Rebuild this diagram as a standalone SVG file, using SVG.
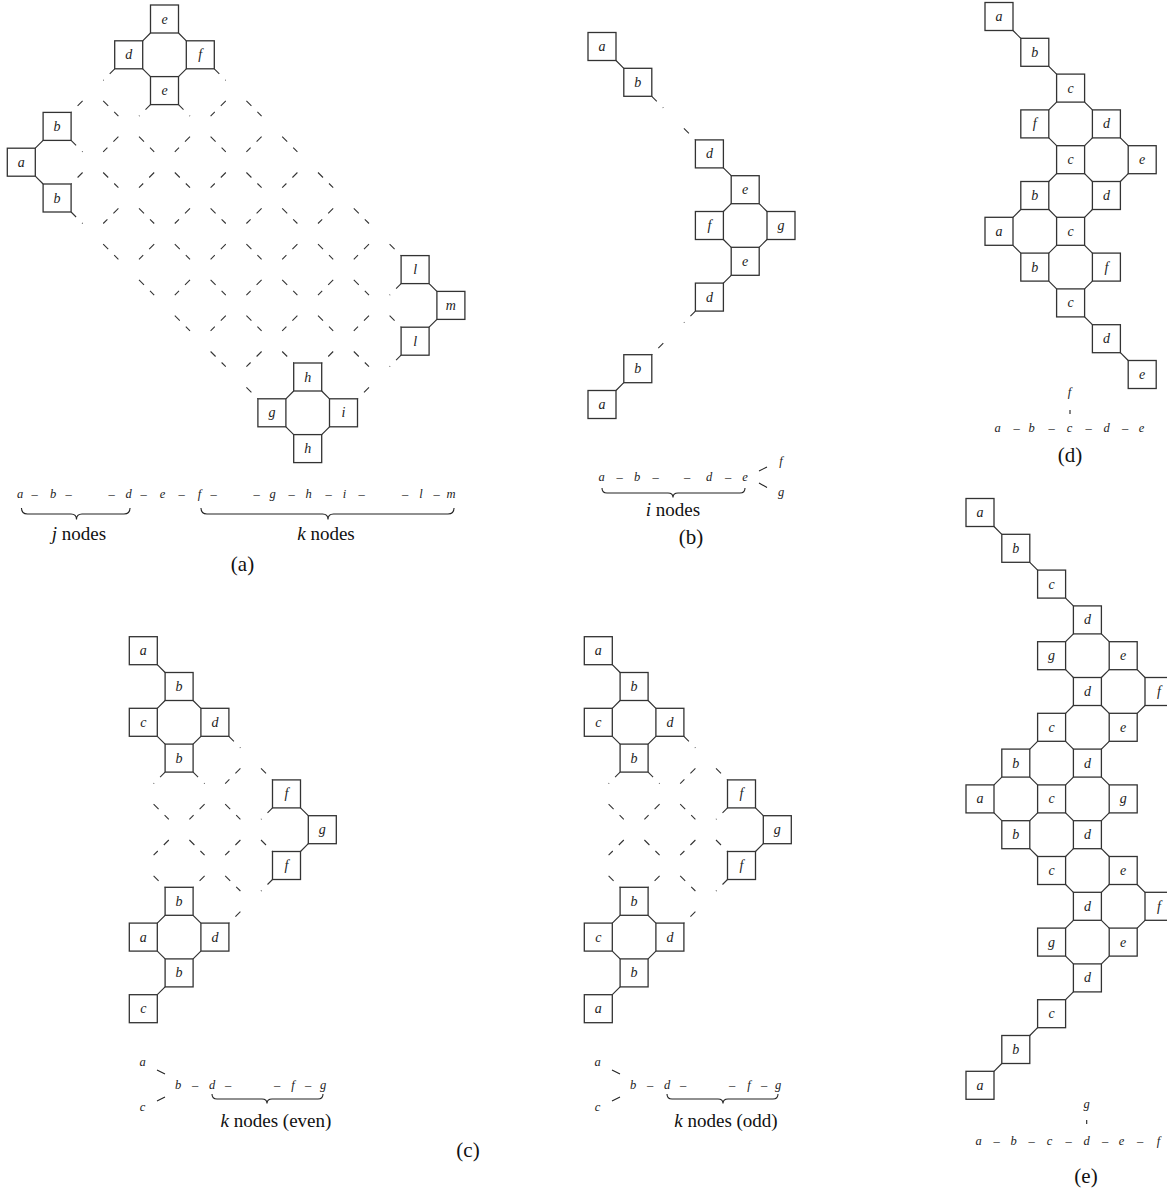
<svg xmlns="http://www.w3.org/2000/svg" width="1167" height="1194" viewBox="0 0 1167 1194">
<defs>
<style>
.sq{fill:#fff;stroke:#333;stroke-width:1.3}
.nl{font-family:"Liberation Serif",serif;font-style:italic;font-size:14px;fill:#222;text-anchor:middle}
.cn{fill:none;stroke:#333;stroke-width:1.2}
.dl{fill:none;stroke:#333;stroke-width:1.1;stroke-dasharray:7.07 8.49}
.ml{font-family:"Liberation Serif",serif;font-style:italic;font-size:12.5px;fill:#222;text-anchor:middle}
.br{fill:none;stroke:#222;stroke-width:1.1}
.tx{font-family:"Liberation Serif",serif;font-size:19px;fill:#111;text-anchor:middle}
.cap{font-family:"Liberation Serif",serif;font-size:21px;fill:#111;text-anchor:middle}
</style>
</defs>
<rect width="1167" height="1194" fill="#fff"/>

<g id="connectors">
 <g transform="translate(7.3,5)">
  <path class="cn" d="M28 143.2l7.8 -7.8M28 171.2l7.8 7.8M135.4 35.8l7.8 -7.8M135.4 63.8l7.8 7.8M171.2 28l7.8 7.8M171.2 71.6l7.8 -7.8M421.8 278.6l7.8 7.8M421.8 322.2l7.8 -7.8M278.6 393.8l7.8 -7.8M278.6 421.8l7.8 7.8M314.4 386l7.8 7.8M314.4 429.6l7.8 -7.8"/>
  <path class="dl" d="M63.8 207l11.5 11.5M95.9 239.1l15.2 15.2M131.7 274.9l15.2 15.2M167.5 310.7l15.2 15.2M203.3 346.5l15.2 15.2M239.1 382.3l11.5 11.5M63.8 135.4l11.5 11.5M95.9 167.5l15.2 15.2M131.7 203.3l15.2 15.2M167.5 239.1l15.2 15.2M203.3 274.9l15.2 15.2M239.1 310.7l15.2 15.2M274.9 346.5l11.5 11.5M95.9 95.9l15.2 15.2M131.7 131.7l15.2 15.2M167.5 167.5l15.2 15.2M203.3 203.3l15.2 15.2M239.1 239.1l15.2 15.2M274.9 274.9l15.2 15.2M310.7 310.7l15.2 15.2M346.5 346.5l15.2 15.2M171.2 99.6l11.5 11.5M203.3 131.7l15.2 15.2M239.1 167.5l15.2 15.2M274.9 203.3l15.2 15.2M310.7 239.1l15.2 15.2M346.5 274.9l15.2 15.2M382.3 310.7l11.5 11.5M207 63.8l11.5 11.5M239.1 95.9l15.2 15.2M274.9 131.7l15.2 15.2M310.7 167.5l15.2 15.2M346.5 203.3l15.2 15.2M382.3 239.1l11.5 11.5M75.3 95.9l-11.5 11.5M107.4 63.8l-11.5 11.5M75.3 167.5l-11.5 11.5M111.1 131.7l-15.2 15.2M143.2 99.6l-11.5 11.5M111.1 203.3l-15.2 15.2M146.9 167.5l-15.2 15.2M182.7 131.7l-15.2 15.2M218.5 95.9l-15.2 15.2M146.9 239.1l-15.2 15.2M182.7 203.3l-15.2 15.2M218.5 167.5l-15.2 15.2M254.3 131.7l-15.2 15.2M182.7 274.9l-15.2 15.2M218.5 239.1l-15.2 15.2M254.3 203.3l-15.2 15.2M290.1 167.5l-15.2 15.2M218.5 310.7l-15.2 15.2M254.3 274.9l-15.2 15.2M290.1 239.1l-15.2 15.2M325.9 203.3l-15.2 15.2M254.3 346.5l-15.2 15.2M290.1 310.7l-15.2 15.2M325.9 274.9l-15.2 15.2M361.7 239.1l-15.2 15.2M325.9 346.5l-11.5 11.5M361.7 310.7l-15.2 15.2M393.8 278.6l-11.5 11.5M361.7 382.3l-11.5 11.5M393.8 350.2l-11.5 11.5"/>
 </g>
 <g transform="translate(588,32.5)">
  <path class="cn" d="M28 28l7.8 7.8M135.4 135.4l7.8 7.8M135.4 179l7.8 -7.8M171.2 171.2l7.8 7.8M135.4 207l7.8 7.8M171.2 214.8l7.8 -7.8M135.4 250.6l7.8 -7.8M28 358l7.8 -7.8"/>
  <path class="dl" d="M63.8 63.8l11.5 11.5M95.9 95.9l11.5 11.5M107.4 278.6l-11.5 11.5M75.3 310.7l-11.5 11.5"/>
 </g>
 <g transform="translate(985,2.5)">
  <path class="cn" d="M28 28l7.8 7.8M63.8 63.8l7.8 7.8M63.8 107.4l7.8 -7.8M99.6 99.6l7.8 7.8M63.8 135.4l7.8 7.8M99.6 143.2l7.8 -7.8M135.4 135.4l7.8 7.8M99.6 171.2l7.8 7.8M135.4 179l7.8 -7.8M63.8 179l7.8 -7.8M28 214.8l7.8 -7.8M63.8 207l7.8 7.8M99.6 214.8l7.8 -7.8M28 242.8l7.8 7.8M63.8 250.6l7.8 -7.8M99.6 242.8l7.8 7.8M63.8 278.6l7.8 7.8M99.6 286.4l7.8 -7.8M99.6 314.4l7.8 7.8M135.4 350.2l7.8 7.8"/>
 </g>
 <g transform="translate(966,498.5)">
  <path class="cn" d="M28 28l7.8 7.8M63.8 63.8l7.8 7.8M99.6 99.6l7.8 7.8M135.4 135.4l7.8 7.8M99.6 171.2l7.8 7.8M99.6 143.2l7.8 -7.8M171.2 171.2l7.8 7.8M135.4 207l7.8 7.8M135.4 179l7.8 -7.8M99.6 242.8l7.8 7.8M99.6 214.8l7.8 -7.8M171.2 214.8l7.8 -7.8M63.8 278.6l7.8 7.8M63.8 250.6l7.8 -7.8M135.4 278.6l7.8 7.8M135.4 250.6l7.8 -7.8M28 314.4l7.8 7.8M28 286.4l7.8 -7.8M99.6 314.4l7.8 7.8M99.6 286.4l7.8 -7.8M63.8 350.2l7.8 7.8M63.8 322.2l7.8 -7.8M135.4 350.2l7.8 7.8M135.4 322.2l7.8 -7.8M99.6 386l7.8 7.8M99.6 358l7.8 -7.8M171.2 386l7.8 7.8M135.4 421.8l7.8 7.8M135.4 393.8l7.8 -7.8M99.6 457.6l7.8 7.8M99.6 429.6l7.8 -7.8M171.2 429.6l7.8 -7.8M135.4 465.4l7.8 -7.8M99.6 501.2l7.8 -7.8M63.8 537l7.8 -7.8M28 572.8l7.8 -7.8"/>
 </g>
 <g transform="translate(129.3,636.7)">
  <path class="cn" d="M28 28l7.8 7.8M28 71.6l7.8 -7.8M63.8 63.8l7.8 7.8M28 99.6l7.8 7.8M63.8 107.4l7.8 -7.8M171.2 171.2l7.8 7.8M171.2 214.8l7.8 -7.8M28 286.4l7.8 -7.8M63.8 278.6l7.8 7.8M28 314.4l7.8 7.8M63.8 322.2l7.8 -7.8M28 358l7.8 -7.8"/>
  <path class="dl" d="M99.6 99.6l11.5 11.5M131.7 131.7l11.5 11.5M63.8 135.4l11.5 11.5M95.9 167.5l15.2 15.2M131.7 203.3l11.5 11.5M24.3 167.5l15.2 15.2M60.1 203.3l15.2 15.2M95.9 239.1l15.2 15.2M24.3 239.1l11.5 11.5M35.8 135.4l-11.5 11.5M39.5 203.3l-15.2 15.2M75.3 167.5l-15.2 15.2M111.1 131.7l-15.2 15.2M75.3 239.1l-11.5 11.5M111.1 203.3l-15.2 15.2M143.2 171.2l-11.5 11.5M111.1 274.9l-11.5 11.5M143.2 242.8l-11.5 11.5"/>
 </g>
 <g transform="translate(584.3,636.7)">
  <path class="cn" d="M28 28l7.8 7.8M28 71.6l7.8 -7.8M63.8 63.8l7.8 7.8M28 99.6l7.8 7.8M63.8 107.4l7.8 -7.8M171.2 171.2l7.8 7.8M171.2 214.8l7.8 -7.8M28 286.4l7.8 -7.8M63.8 278.6l7.8 7.8M28 314.4l7.8 7.8M63.8 322.2l7.8 -7.8M28 358l7.8 -7.8"/>
  <path class="dl" d="M99.6 99.6l11.5 11.5M131.7 131.7l11.5 11.5M63.8 135.4l11.5 11.5M95.9 167.5l15.2 15.2M131.7 203.3l11.5 11.5M24.3 167.5l15.2 15.2M60.1 203.3l15.2 15.2M95.9 239.1l15.2 15.2M24.3 239.1l11.5 11.5M35.8 135.4l-11.5 11.5M39.5 203.3l-15.2 15.2M75.3 167.5l-15.2 15.2M111.1 131.7l-15.2 15.2M75.3 239.1l-11.5 11.5M111.1 203.3l-15.2 15.2M143.2 171.2l-11.5 11.5M111.1 274.9l-11.5 11.5M143.2 242.8l-11.5 11.5"/>
 </g>
 <path class="br" d="M759 471L767 467M759 483L767 487.5"/>
 <path class="br" d="M1070 410V414M1086.7 1120V1124"/>
 <path class="br" d="M157 1070L165 1074M157 1101L165 1097M612 1070L620 1074M612 1101L620 1097"/>
</g>

<g id="panel-a">
 <g transform="translate(7.3,5)">
  <g id="a-a" transform="translate(0,143.2)"><rect class="sq" width="28" height="28"/><text class="nl" x="14" y="18.5">a</text></g>
  <g id="a-b1" transform="translate(35.8,107.4)"><rect class="sq" width="28" height="28"/><text class="nl" x="14" y="18.5">b</text></g>
  <g id="a-b2" transform="translate(35.8,179)"><rect class="sq" width="28" height="28"/><text class="nl" x="14" y="18.5">b</text></g>
  <g id="a-d" transform="translate(107.4,35.8)"><rect class="sq" width="28" height="28"/><text class="nl" x="14" y="18.5">d</text></g>
  <g id="a-e1" transform="translate(143.2,0)"><rect class="sq" width="28" height="28"/><text class="nl" x="14" y="18.5">e</text></g>
  <g id="a-f" transform="translate(179,35.8)"><rect class="sq" width="28" height="28"/><text class="nl" x="14" y="18.5">f</text></g>
  <g id="a-e2" transform="translate(143.2,71.6)"><rect class="sq" width="28" height="28"/><text class="nl" x="14" y="18.5">e</text></g>
  <g id="a-l1" transform="translate(393.8,250.6)"><rect class="sq" width="28" height="28"/><text class="nl" x="14" y="18.5">l</text></g>
  <g id="a-m" transform="translate(429.6,286.4)"><rect class="sq" width="28" height="28"/><text class="nl" x="14" y="18.5">m</text></g>
  <g id="a-l2" transform="translate(393.8,322.2)"><rect class="sq" width="28" height="28"/><text class="nl" x="14" y="18.5">l</text></g>
  <g id="a-h1" transform="translate(286.4,358)"><rect class="sq" width="28" height="28"/><text class="nl" x="14" y="18.5">h</text></g>
  <g id="a-g" transform="translate(250.6,393.8)"><rect class="sq" width="28" height="28"/><text class="nl" x="14" y="18.5">g</text></g>
  <g id="a-i" transform="translate(322.2,393.8)"><rect class="sq" width="28" height="28"/><text class="nl" x="14" y="18.5">i</text></g>
  <g id="a-h2" transform="translate(286.4,429.6)"><rect class="sq" width="28" height="28"/><text class="nl" x="14" y="18.5">h</text></g>
 </g>
 <text class="ml" x="20 34.5 53 68.5 111.5 128.5 143.5 162.5 181.5 199.5 213.5 256.5 272.5 291.5 308.5 328.5 344.5 361.5 405 421 436.5 451" y="498">a–b––d–e–f––g–h–i––l–m</text>
 <path class="br" d="M21.5 508q0 6 6 6H71q5.5 0 5.5 5.5q0 -5.5 5.5 -5.5H124q6 0 6 -6"/>
 <path class="br" d="M201 508q0 6 6 6H322.5q5.5 0 5.5 5.5q0 -5.5 5.5 -5.5H448q6 0 6 -6"/>
 <text class="tx" x="79" y="540"><tspan font-style="italic">j</tspan> nodes</text>
 <text class="tx" x="326" y="540"><tspan font-style="italic">k</tspan> nodes</text>
 <text class="cap" x="242.5" y="571">(a)</text>
</g>

<g id="panel-b">
 <g transform="translate(588,32.5)">
  <g id="b-a1"><rect class="sq" width="28" height="28"/><text class="nl" x="14" y="18.5">a</text></g>
  <g id="b-b1" transform="translate(35.8,35.8)"><rect class="sq" width="28" height="28"/><text class="nl" x="14" y="18.5">b</text></g>
  <g id="b-d1" transform="translate(107.4,107.4)"><rect class="sq" width="28" height="28"/><text class="nl" x="14" y="18.5">d</text></g>
  <g id="b-e1" transform="translate(143.2,143.2)"><rect class="sq" width="28" height="28"/><text class="nl" x="14" y="18.5">e</text></g>
  <g id="b-f" transform="translate(107.4,179)"><rect class="sq" width="28" height="28"/><text class="nl" x="14" y="18.5">f</text></g>
  <g id="b-g" transform="translate(179,179)"><rect class="sq" width="28" height="28"/><text class="nl" x="14" y="18.5">g</text></g>
  <g id="b-e2" transform="translate(143.2,214.8)"><rect class="sq" width="28" height="28"/><text class="nl" x="14" y="18.5">e</text></g>
  <g id="b-d2" transform="translate(107.4,250.6)"><rect class="sq" width="28" height="28"/><text class="nl" x="14" y="18.5">d</text></g>
  <g id="b-b2" transform="translate(35.8,322.2)"><rect class="sq" width="28" height="28"/><text class="nl" x="14" y="18.5">b</text></g>
  <g id="b-a2" transform="translate(0,358)"><rect class="sq" width="28" height="28"/><text class="nl" x="14" y="18.5">a</text></g>
 </g>
 <text class="ml" x="601.5 619.5 637 655.5 687 709 728 745" y="481">a–b––d–e</text>
 <text class="ml" x="781" y="465">f</text>
 <text class="ml" x="781" y="496">g</text>
 <path class="br" d="M602 488q0 5 5 5H668q5 0 5 4.5q0 -4.5 5 -4.5H740q5 0 5 -5"/>
 <text class="tx" x="673" y="516"><tspan font-style="italic">i</tspan> nodes</text>
 <text class="cap" x="691" y="544">(b)</text>
</g>

<g id="panel-c">
 <g id="c-even" transform="translate(129.3,636.7)">
  <g id="ce-a1"><rect class="sq" width="28" height="28"/><text class="nl" x="14" y="18.5">a</text></g>
  <g id="ce-b1" transform="translate(35.8,35.8)"><rect class="sq" width="28" height="28"/><text class="nl" x="14" y="18.5">b</text></g>
  <g id="ce-c1" transform="translate(0,71.6)"><rect class="sq" width="28" height="28"/><text class="nl" x="14" y="18.5">c</text></g>
  <g id="ce-d1" transform="translate(71.6,71.6)"><rect class="sq" width="28" height="28"/><text class="nl" x="14" y="18.5">d</text></g>
  <g id="ce-b2" transform="translate(35.8,107.4)"><rect class="sq" width="28" height="28"/><text class="nl" x="14" y="18.5">b</text></g>
  <g id="ce-f1" transform="translate(143.2,143.2)"><rect class="sq" width="28" height="28"/><text class="nl" x="14" y="18.5">f</text></g>
  <g id="ce-g" transform="translate(179,179)"><rect class="sq" width="28" height="28"/><text class="nl" x="14" y="18.5">g</text></g>
  <g id="ce-f2" transform="translate(143.2,214.8)"><rect class="sq" width="28" height="28"/><text class="nl" x="14" y="18.5">f</text></g>
  <g id="ce-b3" transform="translate(35.8,250.6)"><rect class="sq" width="28" height="28"/><text class="nl" x="14" y="18.5">b</text></g>
  <g id="ce-a2" transform="translate(0,286.4)"><rect class="sq" width="28" height="28"/><text class="nl" x="14" y="18.5">a</text></g>
  <g id="ce-d2" transform="translate(71.6,286.4)"><rect class="sq" width="28" height="28"/><text class="nl" x="14" y="18.5">d</text></g>
  <g id="ce-b4" transform="translate(35.8,322.2)"><rect class="sq" width="28" height="28"/><text class="nl" x="14" y="18.5">b</text></g>
  <g id="ce-c2" transform="translate(0,358)"><rect class="sq" width="28" height="28"/><text class="nl" x="14" y="18.5">c</text></g>
 </g>
 <g id="c-odd" transform="translate(584.3,636.7)">
  <g id="co-a1"><rect class="sq" width="28" height="28"/><text class="nl" x="14" y="18.5">a</text></g>
  <g id="co-b1" transform="translate(35.8,35.8)"><rect class="sq" width="28" height="28"/><text class="nl" x="14" y="18.5">b</text></g>
  <g id="co-c1" transform="translate(0,71.6)"><rect class="sq" width="28" height="28"/><text class="nl" x="14" y="18.5">c</text></g>
  <g id="co-d1" transform="translate(71.6,71.6)"><rect class="sq" width="28" height="28"/><text class="nl" x="14" y="18.5">d</text></g>
  <g id="co-b2" transform="translate(35.8,107.4)"><rect class="sq" width="28" height="28"/><text class="nl" x="14" y="18.5">b</text></g>
  <g id="co-f1" transform="translate(143.2,143.2)"><rect class="sq" width="28" height="28"/><text class="nl" x="14" y="18.5">f</text></g>
  <g id="co-g" transform="translate(179,179)"><rect class="sq" width="28" height="28"/><text class="nl" x="14" y="18.5">g</text></g>
  <g id="co-f2" transform="translate(143.2,214.8)"><rect class="sq" width="28" height="28"/><text class="nl" x="14" y="18.5">f</text></g>
  <g id="co-b3" transform="translate(35.8,250.6)"><rect class="sq" width="28" height="28"/><text class="nl" x="14" y="18.5">b</text></g>
  <g id="co-c2" transform="translate(0,286.4)"><rect class="sq" width="28" height="28"/><text class="nl" x="14" y="18.5">c</text></g>
  <g id="co-d2" transform="translate(71.6,286.4)"><rect class="sq" width="28" height="28"/><text class="nl" x="14" y="18.5">d</text></g>
  <g id="co-b4" transform="translate(35.8,322.2)"><rect class="sq" width="28" height="28"/><text class="nl" x="14" y="18.5">b</text></g>
  <g id="co-a2" transform="translate(0,358)"><rect class="sq" width="28" height="28"/><text class="nl" x="14" y="18.5">a</text></g>
 </g>
 <text class="ml" x="142.5" y="1066">a</text>
 <text class="ml" x="142.5" y="1111">c</text>
 <text class="ml" x="178 195 212 228 277 293 308 323" y="1089">b–d––f–g</text>
 <path class="br" d="M212 1094q0 5 5 5H262q5 0 5 4.5q0 -4.5 5 -4.5H318q5 0 5 -5"/>
 <text class="tx" x="276" y="1127"><tspan font-style="italic">k</tspan> nodes (even)</text>
 <text class="ml" x="597.5" y="1066">a</text>
 <text class="ml" x="597.5" y="1111">c</text>
 <text class="ml" x="633 650 667 683 732 749 764 778" y="1089">b–d––f–g</text>
 <path class="br" d="M667 1094q0 5 5 5H718q5 0 5 4.5q0 -4.5 5 -4.5H773q5 0 5 -5"/>
 <text class="tx" x="726" y="1127"><tspan font-style="italic">k</tspan> nodes (odd)</text>
 <text class="cap" x="468" y="1157">(c)</text>
</g>

<g id="panel-d">
 <g transform="translate(985,2.5)">
  <g id="d-a1"><rect class="sq" width="28" height="28"/><text class="nl" x="14" y="18.5">a</text></g>
  <g id="d-b1" transform="translate(35.8,35.8)"><rect class="sq" width="28" height="28"/><text class="nl" x="14" y="18.5">b</text></g>
  <g id="d-c1" transform="translate(71.6,71.6)"><rect class="sq" width="28" height="28"/><text class="nl" x="14" y="18.5">c</text></g>
  <g id="d-f1" transform="translate(35.8,107.4)"><rect class="sq" width="28" height="28"/><text class="nl" x="14" y="18.5">f</text></g>
  <g id="d-d1" transform="translate(107.4,107.4)"><rect class="sq" width="28" height="28"/><text class="nl" x="14" y="18.5">d</text></g>
  <g id="d-c2" transform="translate(71.6,143.2)"><rect class="sq" width="28" height="28"/><text class="nl" x="14" y="18.5">c</text></g>
  <g id="d-e1" transform="translate(143.2,143.2)"><rect class="sq" width="28" height="28"/><text class="nl" x="14" y="18.5">e</text></g>
  <g id="d-b2" transform="translate(35.8,179)"><rect class="sq" width="28" height="28"/><text class="nl" x="14" y="18.5">b</text></g>
  <g id="d-d2" transform="translate(107.4,179)"><rect class="sq" width="28" height="28"/><text class="nl" x="14" y="18.5">d</text></g>
  <g id="d-a2" transform="translate(0,214.8)"><rect class="sq" width="28" height="28"/><text class="nl" x="14" y="18.5">a</text></g>
  <g id="d-c3" transform="translate(71.6,214.8)"><rect class="sq" width="28" height="28"/><text class="nl" x="14" y="18.5">c</text></g>
  <g id="d-b3" transform="translate(35.8,250.6)"><rect class="sq" width="28" height="28"/><text class="nl" x="14" y="18.5">b</text></g>
  <g id="d-f2" transform="translate(107.4,250.6)"><rect class="sq" width="28" height="28"/><text class="nl" x="14" y="18.5">f</text></g>
  <g id="d-c4" transform="translate(71.6,286.4)"><rect class="sq" width="28" height="28"/><text class="nl" x="14" y="18.5">c</text></g>
  <g id="d-d3" transform="translate(107.4,322.2)"><rect class="sq" width="28" height="28"/><text class="nl" x="14" y="18.5">d</text></g>
  <g id="d-e2" transform="translate(143.2,358)"><rect class="sq" width="28" height="28"/><text class="nl" x="14" y="18.5">e</text></g>
 </g>
 <text class="ml" x="1069.5" y="396">f</text>
 <text class="ml" x="997.5 1016.5 1031.5 1051.5 1069.5 1088.5 1106.5 1125 1141.5" y="431.5">a–b–c–d–e</text>
 <text class="cap" x="1070" y="462">(d)</text>
</g>

<g id="panel-e">
 <g transform="translate(966,498.5)">
  <g id="e-a1"><rect class="sq" width="28" height="28"/><text class="nl" x="14" y="18.5">a</text></g>
  <g id="e-b1" transform="translate(35.8,35.8)"><rect class="sq" width="28" height="28"/><text class="nl" x="14" y="18.5">b</text></g>
  <g id="e-c1" transform="translate(71.6,71.6)"><rect class="sq" width="28" height="28"/><text class="nl" x="14" y="18.5">c</text></g>
  <g id="e-d1" transform="translate(107.4,107.4)"><rect class="sq" width="28" height="28"/><text class="nl" x="14" y="18.5">d</text></g>
  <g id="e-g1" transform="translate(71.6,143.2)"><rect class="sq" width="28" height="28"/><text class="nl" x="14" y="18.5">g</text></g>
  <g id="e-e1" transform="translate(143.2,143.2)"><rect class="sq" width="28" height="28"/><text class="nl" x="14" y="18.5">e</text></g>
  <g id="e-d2" transform="translate(107.4,179)"><rect class="sq" width="28" height="28"/><text class="nl" x="14" y="18.5">d</text></g>
  <g id="e-f1" transform="translate(179,179)"><rect class="sq" width="28" height="28"/><text class="nl" x="14" y="18.5">f</text></g>
  <g id="e-c2" transform="translate(71.6,214.8)"><rect class="sq" width="28" height="28"/><text class="nl" x="14" y="18.5">c</text></g>
  <g id="e-e2" transform="translate(143.2,214.8)"><rect class="sq" width="28" height="28"/><text class="nl" x="14" y="18.5">e</text></g>
  <g id="e-b2" transform="translate(35.8,250.6)"><rect class="sq" width="28" height="28"/><text class="nl" x="14" y="18.5">b</text></g>
  <g id="e-d3" transform="translate(107.4,250.6)"><rect class="sq" width="28" height="28"/><text class="nl" x="14" y="18.5">d</text></g>
  <g id="e-a2" transform="translate(0,286.4)"><rect class="sq" width="28" height="28"/><text class="nl" x="14" y="18.5">a</text></g>
  <g id="e-c3" transform="translate(71.6,286.4)"><rect class="sq" width="28" height="28"/><text class="nl" x="14" y="18.5">c</text></g>
  <g id="e-g2" transform="translate(143.2,286.4)"><rect class="sq" width="28" height="28"/><text class="nl" x="14" y="18.5">g</text></g>
  <g id="e-b3" transform="translate(35.8,322.2)"><rect class="sq" width="28" height="28"/><text class="nl" x="14" y="18.5">b</text></g>
  <g id="e-d4" transform="translate(107.4,322.2)"><rect class="sq" width="28" height="28"/><text class="nl" x="14" y="18.5">d</text></g>
  <g id="e-c4" transform="translate(71.6,358)"><rect class="sq" width="28" height="28"/><text class="nl" x="14" y="18.5">c</text></g>
  <g id="e-e3" transform="translate(143.2,358)"><rect class="sq" width="28" height="28"/><text class="nl" x="14" y="18.5">e</text></g>
  <g id="e-d5" transform="translate(107.4,393.8)"><rect class="sq" width="28" height="28"/><text class="nl" x="14" y="18.5">d</text></g>
  <g id="e-f2" transform="translate(179,393.8)"><rect class="sq" width="28" height="28"/><text class="nl" x="14" y="18.5">f</text></g>
  <g id="e-g3" transform="translate(71.6,429.6)"><rect class="sq" width="28" height="28"/><text class="nl" x="14" y="18.5">g</text></g>
  <g id="e-e4" transform="translate(143.2,429.6)"><rect class="sq" width="28" height="28"/><text class="nl" x="14" y="18.5">e</text></g>
  <g id="e-d6" transform="translate(107.4,465.4)"><rect class="sq" width="28" height="28"/><text class="nl" x="14" y="18.5">d</text></g>
  <g id="e-c5" transform="translate(71.6,501.2)"><rect class="sq" width="28" height="28"/><text class="nl" x="14" y="18.5">c</text></g>
  <g id="e-b4" transform="translate(35.8,537)"><rect class="sq" width="28" height="28"/><text class="nl" x="14" y="18.5">b</text></g>
  <g id="e-a3" transform="translate(0,572.8)"><rect class="sq" width="28" height="28"/><text class="nl" x="14" y="18.5">a</text></g>
 </g>
 <text class="ml" x="1086.7" y="1108">g</text>
 <text class="ml" x="978.5 996.5 1013.5 1031.5 1049.5 1068.5 1086.5 1105 1121.5 1140 1158.5" y="1145">a–b–c–d–e–f</text>
 <text class="cap" x="1086" y="1183">(e)</text>
</g>
</svg>
